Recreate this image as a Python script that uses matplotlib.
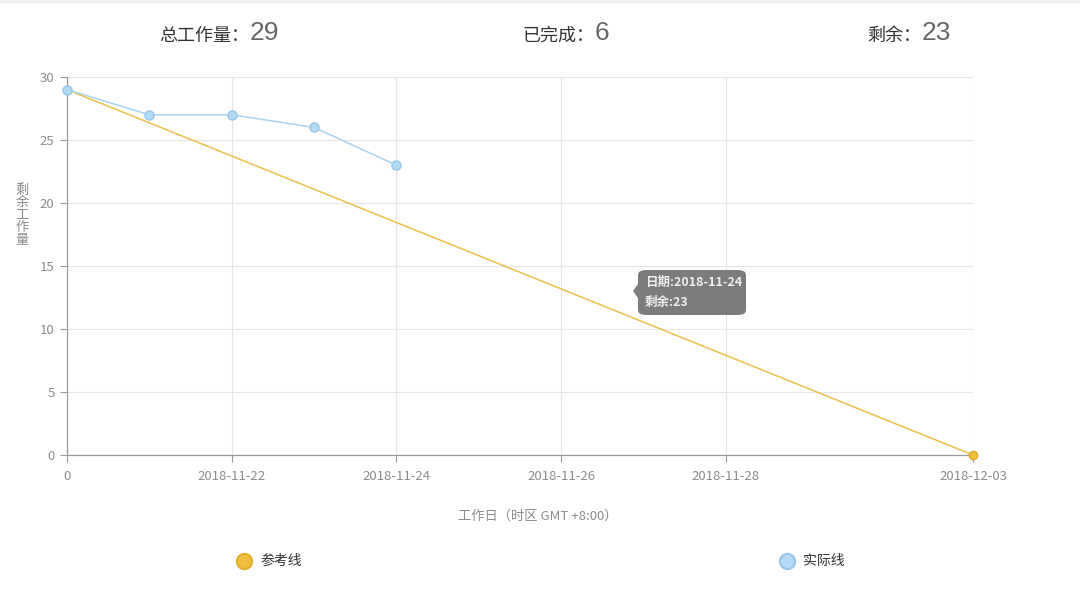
import matplotlib
matplotlib.use('Agg')
import matplotlib.pyplot as plt
from matplotlib.patches import FancyBboxPatch, Polygon

plt.rcParams['font.family'] = ['Noto Sans CJK SC', 'DejaVu Sans']

# data
work_days = ['0', '2018-11-21', '2018-11-22', '2018-11-23', '2018-11-24', '2018-11-25',
             '2018-11-26', '2018-11-27', '2018-11-28', '2018-11-29', '2018-11-30', '2018-12-03']
shown_days = ['0', '2018-11-22', '2018-11-24', '2018-11-26', '2018-11-28', '2018-12-03']
actual_remaining = [29, 27, 27, 26, 23]
ref_days = ['0', '2018-12-03']
ref_remaining = [29, 0]
total_work = 29
done_work = 6
left_work = 23

GRAY = '#999999'
YELLOW = '#e8c04a'
BLUE = '#a9d3f2'

fig = plt.figure(figsize=(10.8, 6.02), dpi=100)
ax = fig.add_axes([67 / 1080, 1 - 455 / 602, (973 - 67) / 1080, (455 - 77) / 602])

idx = {d: i for i, d in enumerate(work_days)}
ref_x = [idx[d] for d in ref_days]
act_x = list(range(len(actual_remaining)))

ax.plot(ref_x, ref_remaining, color=YELLOW, lw=1.1, zorder=3)
ax.plot(ref_x[-1:], ref_remaining[-1:], 'o', ms=6, mfc='#efbe3c', mec='#e0ad2a', mew=1,
        zorder=4, clip_on=False)
ax.plot(act_x, actual_remaining, color=BLUE, lw=1.1, marker='o', ms=6.5,
        mfc='#b3d9f5', mec='#96c6ec', mew=1, zorder=5, clip_on=False)

ax.set_xlim(0, len(work_days) - 1)
ax.set_ylim(0, 30)
ax.set_yticks(range(0, 31, 5))
ax.set_xticks([idx[d] for d in shown_days])
ax.set_xticklabels(shown_days)
ax.tick_params(colors=GRAY, labelsize=9.5, length=5, width=0.8, pad=4)
ax.tick_params(axis='x', labelcolor='#8c8c8c', pad=6)
ax.tick_params(axis='y', labelcolor='#8c8c8c')
ax.grid(True, color='#e6e6e6', lw=0.8)
ax.set_axisbelow(True)
for s in ['top', 'right']:
    ax.spines[s].set_visible(False)
for s in ['left', 'bottom']:
    ax.spines[s].set_color('#9a9a9a')
    ax.spines[s].set_linewidth(0.9)

# axis titles
fig.text(22 / 1080, 1 - 215 / 602, '\n'.join('剩余工作量'), ha='center', va='center',
         fontsize=9.5, color='#8c8c8c', linespacing=0.95)
fig.text(538 / 1080, 1 - 516 / 602, '工作日（时区 GMT +8:00）', ha='center', va='center',
         fontsize=9.5, color='#8c8c8c')

# header
for lab, val, x1 in [('总工作量：', total_work, 250),
                     ('已完成：', done_work, 595),
                     ('剩余：', left_work, 922)]:
    fig.text((x1 - 1) / 1080, 1 - 36 / 602, lab, ha='right', va='center', fontsize=13,
             color='#333333')
    fig.text(x1 / 1080, 1 - 33 / 602, str(val), ha='left', va='center', fontsize=19,
             color='#666666', family=['Liberation Sans', 'DejaVu Sans'])
fig.add_artist(plt.Line2D([0, 1], [1 - 1 / 602, 1 - 1 / 602], transform=fig.transFigure,
                          color='#f0f0f0', lw=2.5))

# legend
fig.add_artist(plt.Line2D([244 / 1080], [1 - 561 / 602], transform=fig.transFigure,
                          marker='o', ms=11, mfc='#efbe3c', mec='#e3b02e', mew=1.5, ls=''))
fig.text(260 / 1080, 1 - 561 / 602, '参考线', ha='left', va='center', fontsize=10, color='#333333')
fig.add_artist(plt.Line2D([787 / 1080], [1 - 561 / 602], transform=fig.transFigure,
                          marker='o', ms=11, mfc='#b3d9f5', mec='#96c6ec', mew=1.5, ls=''))
fig.text(803 / 1080, 1 - 561 / 602, '实际线', ha='left', va='center', fontsize=10, color='#333333')

# tooltip
bx0, by0, bw, bh = 638, 270, 108, 45
box = FancyBboxPatch((bx0 / 1080, 1 - (by0 + bh) / 602), bw / 1080, bh / 602,
                     boxstyle='round,pad=0,rounding_size=0.008', transform=fig.transFigure,
                     fc='#6e6e6e', ec='none', alpha=0.9, zorder=10)
fig.add_artist(box)
tri = Polygon([(bx0 / 1080, 1 - 284 / 602), (633 / 1080, 1 - 291 / 602), (bx0 / 1080, 1 - 298 / 602)],
              closed=True, transform=fig.transFigure, fc='#6e6e6e', ec='none', alpha=0.9, zorder=10)
fig.add_artist(tri)
fig.text(645 / 1080, 1 - 282 / 602, '日期:' + work_days[len(actual_remaining) - 1], ha='left',
         va='center', fontsize=9, color='#eeeeee', weight='bold', zorder=11)
fig.text(645 / 1080, 1 - 302 / 602, '剩余:' + str(actual_remaining[-1]), ha='left',
         va='center', fontsize=9, color='#eeeeee', weight='bold', zorder=11)

fig.savefig('out.png', dpi=100, facecolor='white')
